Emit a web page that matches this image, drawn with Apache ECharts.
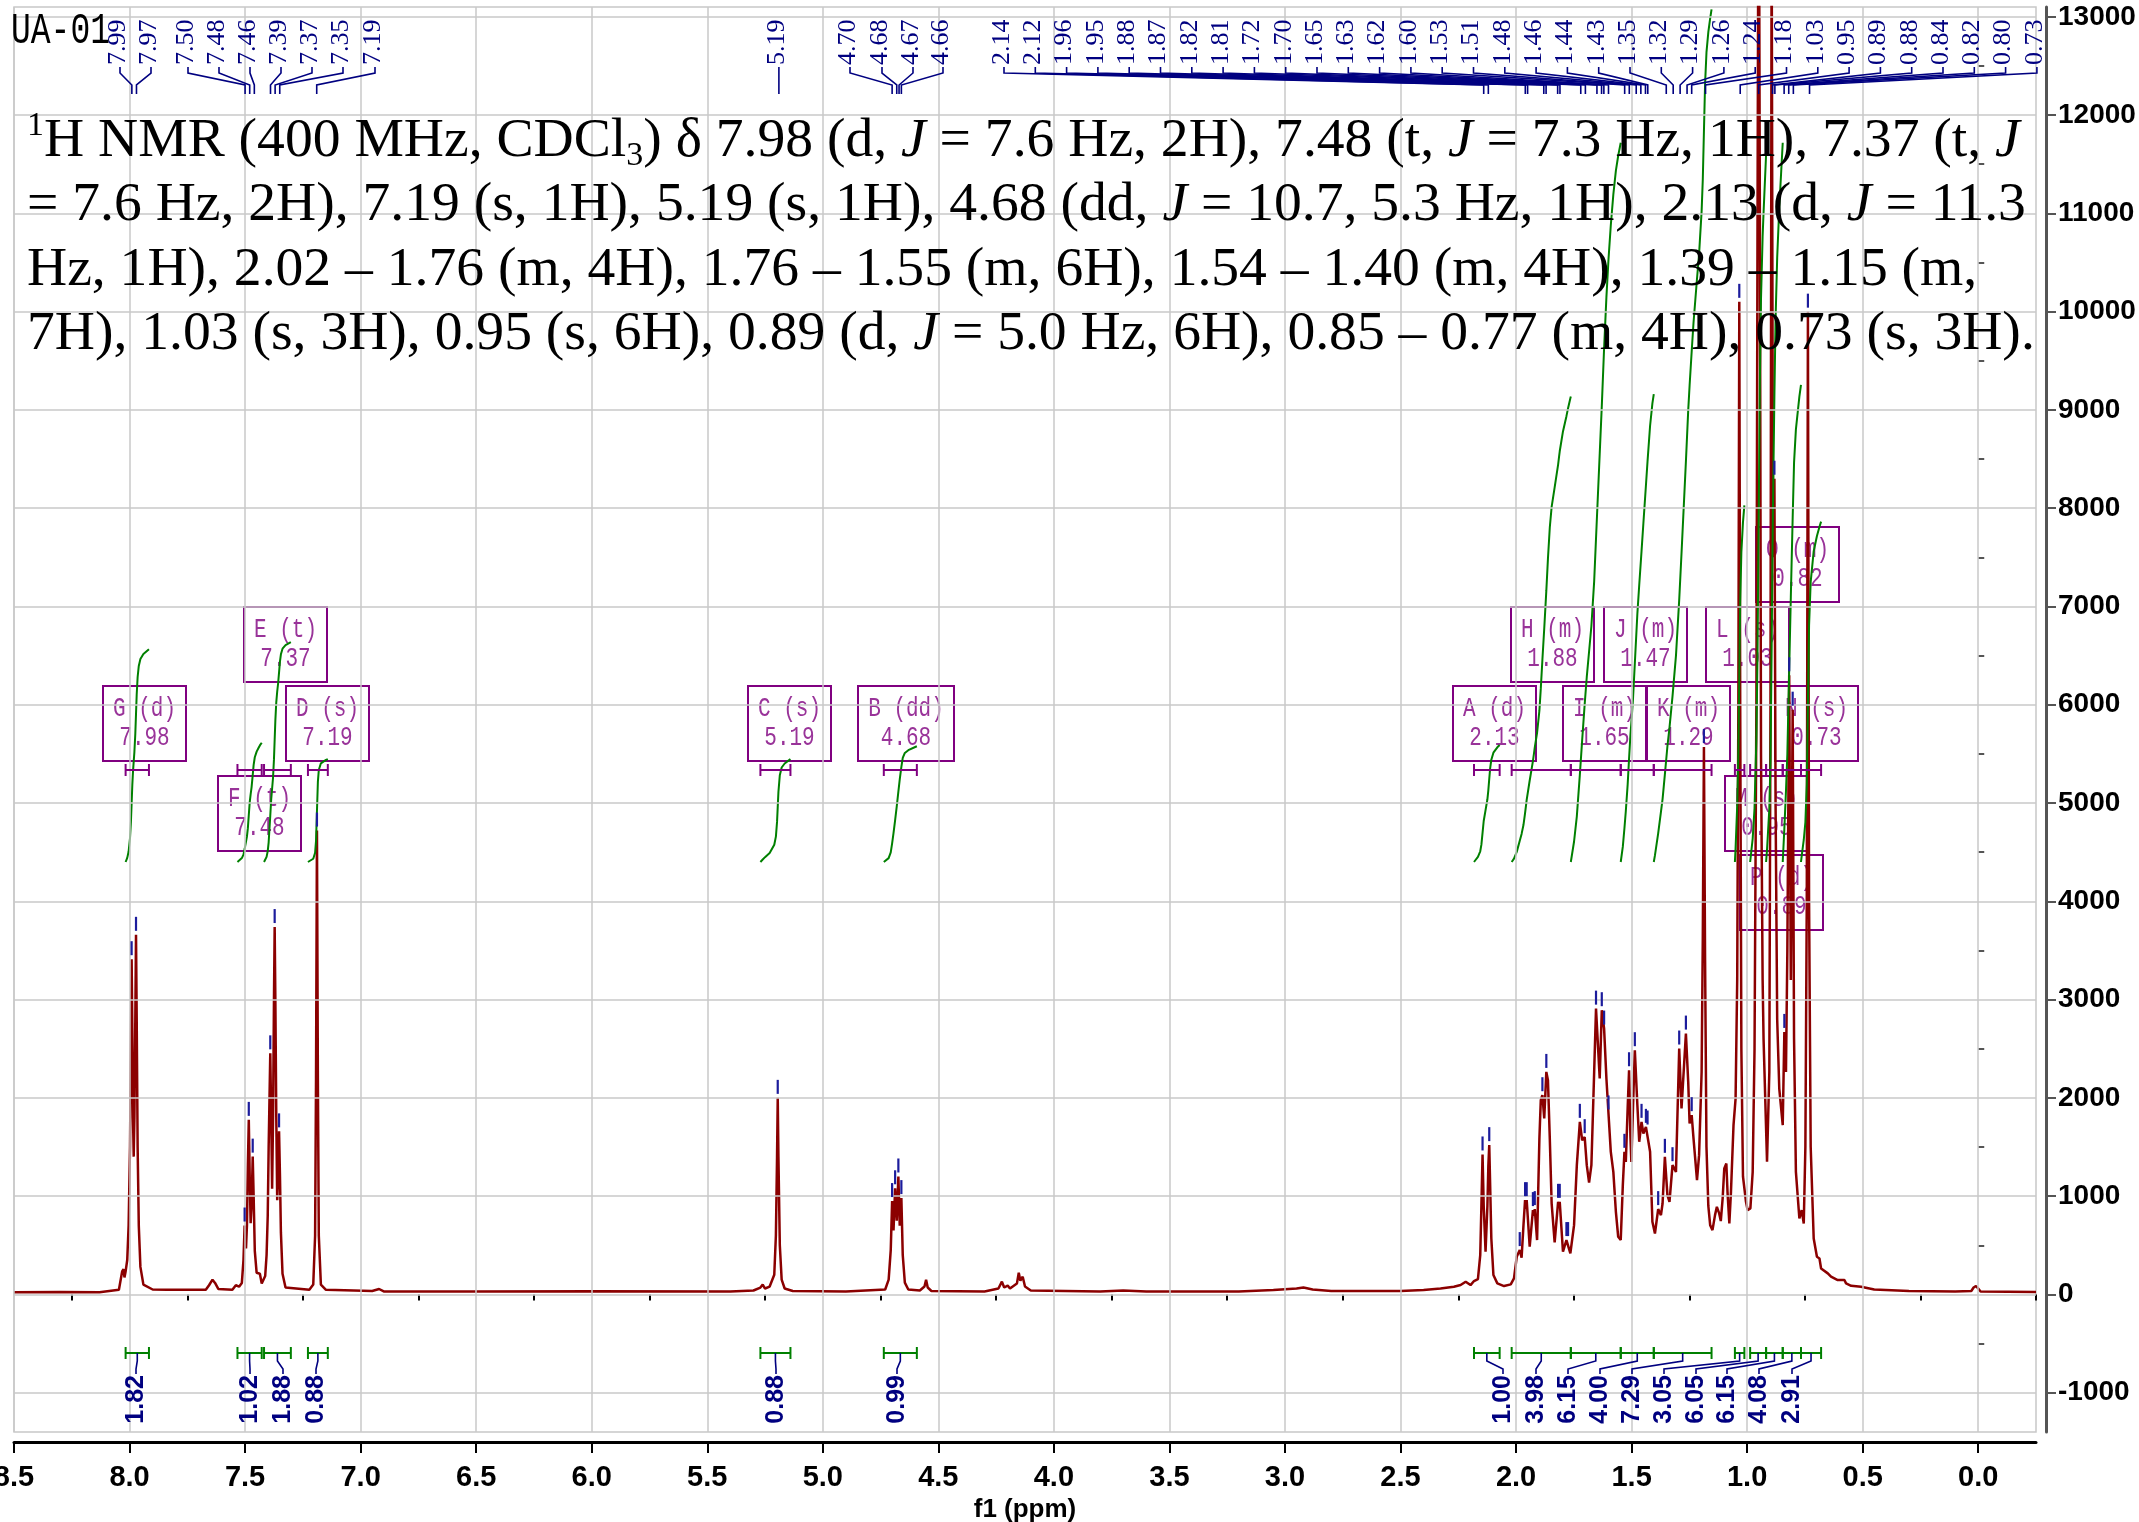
<!DOCTYPE html>
<html>
<head>
<meta charset="utf-8">
<script src="https://cdn.jsdelivr.net/npm/echarts@6/dist/echarts.min.js"></script>
<style>
html, body { margin: 0; padding: 0; background: #fff; }
#main { width: 2139px; height: 1522px; }
</style>
</head>
<body>
<div id="main"></div>
<script>
// ---- spectrum, [ppm, intensity] ----
var spectrumAromatic = [
  [8.50, 22], [8.30, 25], [8.13, 23], [8.046, 47], [8.032, 234], [8.026, 257], [8.022, 173], [8.017, 234],
  [8.010, 350], [8.004, 700], [7.998, 1500], [7.994, 2600], [7.991, 3411], [7.988, 2700], [7.985, 1800],
  [7.982, 1402], [7.979, 1800], [7.975, 2800], [7.972, 3659], [7.969, 2800], [7.965, 1500], [7.960, 700],
  [7.953, 280], [7.940, 100], [7.90, 50], [7.84, 47], [7.67, 47], [7.656, 93], [7.641, 150], [7.630, 117],
  [7.616, 56], [7.555, 47], [7.540, 93], [7.533, 107], [7.526, 79], [7.514, 117], [7.507, 350], [7.502, 701],
  [7.496, 467], [7.492, 700], [7.488, 1300], [7.484, 1776], [7.480, 1200], [7.476, 724], [7.472, 900],
  [7.467, 1402], [7.463, 1000], [7.458, 444], [7.450, 220], [7.442, 200], [7.436, 210], [7.428, 110],
  [7.420, 100], [7.413, 187], [7.407, 400], [7.402, 800], [7.398, 1500], [7.391, 2453], [7.387, 1800],
  [7.383, 1075], [7.379, 1800], [7.375, 3000], [7.372, 3738], [7.369, 3000], [7.365, 1800], [7.361, 958],
  [7.357, 1200], [7.353, 1659], [7.349, 1200], [7.345, 631], [7.338, 210], [7.325, 70], [7.222, 47],
  [7.205, 100], [7.197, 600], [7.193, 2200], [7.189, 4720], [7.185, 2200], [7.181, 600], [7.172, 100],
  [7.150, 47], [6.95, 35], [6.92, 55], [6.90, 30]
];
var spectrumMid = [
  [6.50, 30], [6.00, 32], [5.40, 30], [5.30, 40], [5.27, 70], [5.26, 100], [5.25, 60], [5.23, 80], [5.21, 200],
  [5.203, 600], [5.198, 1400], [5.195, 2000], [5.192, 1400], [5.186, 500], [5.178, 150], [5.165, 60], [5.13, 35],
  [4.90, 30], [4.73, 50], [4.715, 150], [4.706, 450], [4.700, 950], [4.694, 650], [4.687, 1080], [4.680, 750],
  [4.673, 1200], [4.667, 700], [4.660, 980], [4.654, 400], [4.645, 120], [4.630, 50], [4.58, 40], [4.56, 80],
  [4.553, 150], [4.546, 70], [4.53, 35], [4.30, 30], [4.24, 60], [4.225, 130], [4.215, 70], [4.20, 90],
  [4.19, 60], [4.16, 110], [4.152, 220], [4.145, 140], [4.135, 180], [4.125, 80], [4.10, 40], [3.80, 30],
  [3.70, 40], [3.60, 30], [3.20, 30], [3.05, 45], [2.95, 60], [2.92, 70], [2.88, 50], [2.80, 35], [2.50, 35]
];
var spectrumAliphatic = [
  [2.40, 45], [2.327, 61], [2.269, 78], [2.240, 95], [2.218, 129], [2.197, 95], [2.182, 136], [2.165, 156],
  [2.155, 400], [2.150, 900], [2.145, 1424], [2.140, 900], [2.132, 434], [2.124, 900], [2.120, 1300],
  [2.116, 1519], [2.112, 1100], [2.107, 569], [2.098, 197], [2.081, 112], [2.052, 85], [2.023, 102],
  [2.009, 163], [1.997, 383], [1.984, 451], [1.976, 373], [1.968, 700], [1.961, 959], [1.957, 870],
  [1.954, 959], [1.941, 485], [1.927, 858], [1.923, 800], [1.919, 868], [1.909, 553], [1.899, 1586],
  [1.893, 1976], [1.886, 2027], [1.878, 1790], [1.869, 2264], [1.862, 2180], [1.854, 1586], [1.846, 925],
  [1.833, 529], [1.818, 942], [1.814, 900], [1.811, 942], [1.797, 434], [1.782, 553], [1.778, 540],
  [1.775, 553], [1.765, 417], [1.749, 705], [1.737, 1315], [1.724, 1756], [1.714, 1569], [1.703, 1600],
  [1.694, 1315], [1.684, 1139], [1.674, 1315], [1.662, 2264], [1.654, 2908], [1.638, 2197], [1.629, 2892],
  [1.619, 2705], [1.609, 2197], [1.600, 1841], [1.590, 1451], [1.579, 1247], [1.568, 841], [1.558, 586],
  [1.547, 553], [1.538, 1112], [1.531, 1451], [1.525, 1349], [1.517, 1900], [1.511, 2281], [1.505, 1600],
  [1.501, 1349], [1.494, 1900], [1.486, 2485], [1.475, 1925], [1.467, 1553], [1.457, 1756], [1.449, 1637],
  [1.438, 1705], [1.431, 1688], [1.420, 1451], [1.410, 739], [1.399, 620], [1.385, 868], [1.373, 807],
  [1.366, 925], [1.356, 1400], [1.345, 1010], [1.336, 942], [1.323, 1315], [1.308, 1247], [1.294, 2502],
  [1.284, 1892], [1.265, 2654], [1.255, 2163], [1.249, 1739], [1.240, 1824], [1.232, 1586], [1.217, 1163],
  [1.208, 1417], [1.197, 2264], [1.192, 3600], [1.187, 5570], [1.182, 3400], [1.176, 1500], [1.168, 900],
  [1.160, 705], [1.150, 654], [1.139, 807], [1.131, 891], [1.121, 824], [1.114, 746], [1.106, 976],
  [1.099, 1281], [1.090, 1332], [1.085, 1044], [1.077, 722], [1.070, 1044], [1.059, 1722], [1.050, 1993],
  [1.043, 3200], [1.038, 6000], [1.034, 10100], [1.030, 6000], [1.025, 2500], [1.018, 1200], [1.005, 942],
  [0.998, 858], [0.986, 875], [0.976, 1247], [0.968, 2500], [0.960, 6000], [0.955, 11000], [0.950, 15500],
  [0.945, 11000], [0.940, 5500], [0.933, 3200], [0.929, 2603], [0.914, 1349], [0.904, 2264], [0.899, 6000],
  [0.894, 14000], [0.889, 8500], [0.886, 7500], [0.882, 8300], [0.877, 5000], [0.870, 2800], [0.861, 2095],
  [0.846, 1722], [0.839, 2671], [0.832, 2264], [0.826, 3500], [0.818, 6300], [0.811, 3200], [0.803, 5950],
  [0.797, 2600], [0.789, 1247], [0.774, 773], [0.764, 858], [0.755, 722], [0.748, 1500], [0.742, 4000],
  [0.737, 10000], [0.732, 4000], [0.725, 1500], [0.712, 569], [0.698, 383], [0.687, 366], [0.680, 264],
  [0.651, 214], [0.637, 180], [0.608, 146], [0.579, 146], [0.572, 112], [0.550, 88], [0.507, 78], [0.45, 50],
  [0.30, 35], [0.10, 30], [0.03, 35], [0.02, 70], [0.01, 85], [0.00, 60], [-0.01, 30], [-0.25, 25]
];
var spectrum = spectrumAromatic.concat(spectrumMid, spectrumAliphatic);

// picked peak apexes (blue ticks)
var peakTops = [
  [7.991, 3411], [7.972, 3659], [7.502, 701], [7.484, 1776], [7.467, 1402], [7.391, 2453], [7.372, 3738],
  [7.353, 1659], [7.189, 4720], [5.195, 2000], [4.700, 950], [4.687, 1080], [4.673, 1200], [4.660, 980],
  [2.145, 1424], [2.116, 1519], [1.984, 451], [1.961, 959], [1.954, 959], [1.927, 858], [1.919, 868],
  [1.886, 2027], [1.869, 2264], [1.818, 942], [1.811, 942], [1.782, 553], [1.775, 553], [1.724, 1756],
  [1.703, 1600], [1.654, 2908], [1.629, 2892], [1.619, 2705], [1.600, 1841], [1.531, 1451], [1.511, 2281],
  [1.486, 2485], [1.457, 1756], [1.438, 1705], [1.431, 1688], [1.385, 868], [1.356, 1400], [1.323, 1315],
  [1.294, 2502], [1.265, 2654], [1.240, 1824], [1.187, 5570], [1.034, 10100], [0.882, 8300], [0.839, 2671],
  [0.818, 6300], [0.803, 5950], [0.737, 10000]
];

// peak labels along the top
var peakLabelsAromatic = [7.99, 7.97, 7.50, 7.48, 7.46, 7.39, 7.37, 7.35, 7.19];
var peakLabelsMid = [5.19];
var peakLabelsOlefin = [4.70, 4.68, 4.67, 4.66];
var peakLabelsAliphatic = [2.14, 2.12, 1.96, 1.95, 1.88, 1.87, 1.82, 1.81, 1.72, 1.70, 1.65, 1.63, 1.62, 1.60,
  1.53, 1.51, 1.48, 1.46, 1.44, 1.43, 1.35, 1.32, 1.29, 1.26, 1.24, 1.18, 1.03, 0.95, 0.89, 0.88, 0.84,
  0.82, 0.80, 0.73];

// multiplets / integrals
var multipletNames = ['G (d)', 'F (t)', 'E (t)', 'D (s)', 'C (s)', 'B (dd)', 'A (d)', 'H (m)', 'I (m)', 'J (m)',
  'K (m)', 'L (s)', 'M (s)', 'P (d)', 'O (m)', 'N (s)'];
var multipletShifts = ['7.98', '7.48', '7.37', '7.19', '5.19', '4.68', '2.13', '1.88', '1.65', '1.47', '1.29',
  '1.03', '0.95', '0.89', '0.82', '0.73'];
var rangeFrom = [8.017, 7.533, 7.418, 7.228, 5.27, 4.736, 2.182, 2.019, 1.763, 1.547, 1.404, 1.053, 0.987, 0.918, 0.846, 0.767];
var rangeTo = [7.916, 7.428, 7.302, 7.142, 5.14, 4.593, 2.071, 1.763, 1.547, 1.404, 1.154, 1.012, 0.918, 0.846, 0.767, 0.680];
var integrals = [1.82, 1.02, 1.88, 0.88, 0.88, 0.99, 1.00, 3.98, 6.15, 4.00, 7.29, 3.05, 6.05, 6.15, 4.08, 2.91];

// axis ticks
var xMajor = [8.5, 8.0, 7.5, 7.0, 6.5, 6.0, 5.5, 5.0, 4.5, 4.0, 3.5, 3.0, 2.5, 2.0, 1.5, 1.0, 0.5, 0.0];
var xMinor = [8.25, 7.75, 7.25, 6.75, 6.25, 5.75, 5.25, 4.75, 4.25, 3.75, 3.25, 2.75, 2.25, 1.75, 1.25, 0.75, 0.25, -0.25];
var yMajor = [-1000, 0, 1000, 2000, 3000, 4000, 5000, 6000, 7000, 8000, 9000, 10000, 11000, 12000, 13000];
var yMinor = [-500, 500, 1500, 2500, 3500, 4500, 5500, 6500, 7500, 8500, 9500, 10500, 11500, 12500];

var textLines = [
  '{sup|1}H NMR (400 MHz, CDCl{sub|3}) δ 7.98 (d, {i|J} = 7.6 Hz, 2H), 7.48 (t, {i|J} = 7.3 Hz, 1H), 7.37 (t, {i|J}',
  '= 7.6 Hz, 2H), 7.19 (s, 1H), 5.19 (s, 1H), 4.68 (dd, {i|J} = 10.7, 5.3 Hz, 1H), 2.13 (d, {i|J} = 11.3',
  'Hz, 1H), 2.02 – 1.76 (m, 4H), 1.76 – 1.55 (m, 6H), 1.54 – 1.40 (m, 4H), 1.39 – 1.15 (m,',
  '7H), 1.03 (s, 3H), 0.95 (s, 6H), 0.89 (d, {i|J} = 5.0 Hz, 6H), 0.85 – 0.77 (m, 4H), 0.73 (s, 3H).'
];

// ---- layout (pixels) ----
var labelXAromatic = [120, 151, 188, 219, 250, 281, 312, 343, 375];
var labelXOlefin = [850, 882, 913, 943];
var labelXAliphaticStart = 1004, labelXStep = 31.3;
var boxPos = [[103, 686], [218, 776], [244, 607], [286, 686], [748, 686], [858, 686], [1453, 686], [1511, 607],
  [1563, 686], [1604, 607], [1647, 686], [1706, 607], [1725, 776], [1740, 855], [1756, 527], [1775, 686]];
var integralLabelX = [136, 250, 283, 316, 776, 897, 1503, 1536, 1568, 1600, 1632, 1664, 1696, 1727, 1759, 1792];
var textLineY = [141, 205, 270, 334];
var integralBase = 4400, integralPerH = 1190;

var NAVY = '#000080', GREEN = '#008000', PURPLE = '#800080', SPEC = '#8b0000';

// label list with their pixel x
var peakLabelValues = [], peakLabelX = [];
peakLabelsAromatic.forEach(function (v, i) { peakLabelValues.push(v); peakLabelX.push(labelXAromatic[i]); });
peakLabelsMid.forEach(function (v) { peakLabelValues.push(v); peakLabelX.push(null); });
peakLabelsOlefin.forEach(function (v, i) { peakLabelValues.push(v); peakLabelX.push(labelXOlefin[i]); });
peakLabelsAliphatic.forEach(function (v, i) { peakLabelValues.push(v); peakLabelX.push(labelXAliphaticStart + i * labelXStep); });

// running integral of the spectrum over a range
function integralCurve(from, to, value) {
  var pts = spectrum.filter(function (p) { return p[0] <= from && p[0] >= to; });
  var out = [[from, 0]];
  var area = 0, prev = [from, pts.length ? pts[0][1] : 0];
  pts.forEach(function (p) {
    area += (prev[1] + p[1]) / 2 * (prev[0] - p[0]);
    out.push([p[0], area]);
    prev = p;
  });
  area += prev[1] * (prev[0] - to);
  out.push([to, area]);
  return out.map(function (p) { return [p[0], integralBase + p[1] / area * integralPerH * value]; });
}

var chart = echarts.init(document.getElementById('main'));

var series = [];
series.push({
  type: 'line', data: [[8.5, -1400]], symbol: 'none', lineStyle: { width: 0 }, silent: true, z: 1,
  markLine: {
    silent: true, symbol: ['none', 'none'], label: { show: false }, animation: false,
    lineStyle: { color: '#c8c8c8', width: 1.5, type: 'solid' },
    emphasis: { disabled: true },
    data: xMajor.map(function (v) { return { xAxis: v }; }).concat(yMajor.map(function (v) { return { yAxis: v }; }))
  }
});
series.push({
  type: 'line', data: spectrum, symbol: 'none', showSymbol: false, z: 3,
  lineStyle: { color: SPEC, width: 2.5 }
});
rangeFrom.forEach(function (f, i) {
  series.push({
    type: 'line', data: integralCurve(f, rangeTo[i], integrals[i]), symbol: 'none', showSymbol: false, z: 4,
    lineStyle: { color: GREEN, width: 2 }
  });
});
series.push({
  type: 'custom', data: peakTops, z: 6,
  renderItem: function (params, api) {
    var v = api.value(1);
    if (v > 12900) return null;
    var p = api.coord([api.value(0), v]);
    return { type: 'rect', shape: { x: p[0] - 1.1, y: p[1] - 18, width: 2.2, height: 14 }, style: { fill: '#1c1c9c' } };
  }
});
series.push({
  type: 'custom', z: 6,
  data: peakLabelValues.map(function (v, i) { return [v, i]; }),
  renderItem: function (params, api) {
    var ppm = api.value(0), idx = api.value(1);
    var fx = api.coord([ppm, 0])[0];
    var lx = peakLabelX[idx] == null ? fx : peakLabelX[idx];
    return {
      type: 'group', children: [
        { type: 'polyline', shape: { points: [[lx, 67], [lx, 73], [fx, 85], [fx, 94]] },
          style: { stroke: NAVY, lineWidth: 1.6, fill: null } },
        { type: 'text', x: lx - 2, y: 65, rotation: Math.PI / 2,
          style: { text: ppm.toFixed(2), font: '26px "Liberation Serif"', fill: NAVY, align: 'left', verticalAlign: 'middle' } }
      ]
    };
  }
});
series.push({
  type: 'custom', z: 6,
  data: rangeFrom.map(function (f, i) { return [f, rangeTo[i], integrals[i], i]; }),
  renderItem: function (params, api) {
    var x1 = api.coord([api.value(0), 0])[0], x2 = api.coord([api.value(1), 0])[0];
    var idx = api.value(3), lx = integralLabelX[idx], xm = (x1 + x2) / 2;
    var gy = 1353, py = 770;
    return {
      type: 'group', children: [
        { type: 'polyline', shape: { points: [[x1, gy - 6], [x1, gy + 6]] }, style: { stroke: GREEN, lineWidth: 2 } },
        { type: 'polyline', shape: { points: [[x2, gy - 6], [x2, gy + 6]] }, style: { stroke: GREEN, lineWidth: 2 } },
        { type: 'polyline', shape: { points: [[x1, gy], [x2, gy]] }, style: { stroke: GREEN, lineWidth: 2 } },
        { type: 'polyline', shape: { points: [[xm, gy], [xm, gy + 8], [lx, gy + 16], [lx, gy + 21]] },
          style: { stroke: NAVY, lineWidth: 1.6, fill: null } },
        { type: 'text', x: lx, y: gy + 22, rotation: Math.PI / 2,
          style: { text: api.value(2).toFixed(2), font: 'bold 25px "Liberation Sans"', fill: NAVY, align: 'right', verticalAlign: 'middle' } },
        { type: 'polyline', shape: { points: [[x1, py - 6], [x1, py + 6]] }, style: { stroke: PURPLE, lineWidth: 2 } },
        { type: 'polyline', shape: { points: [[x2, py - 6], [x2, py + 6]] }, style: { stroke: PURPLE, lineWidth: 2 } },
        { type: 'polyline', shape: { points: [[x1, py], [x2, py]] }, style: { stroke: PURPLE, lineWidth: 2 } }
      ]
    };
  }
});

var graphics = [];
graphics.push({
  type: 'text', x: 11, y: 31, scaleY: 1.35, z: 10,
  style: { text: 'UA-01', font: '33px "Liberation Mono"', fill: '#000', verticalAlign: 'middle' }
});
var serif = '"Liberation Serif", "Times New Roman", serif';
textLines.forEach(function (t, i) {
  graphics.push({
    type: 'text', x: 27, y: textLineY[i], z: 10,
    style: {
      text: t, fontFamily: serif, fontSize: 55.6, lineHeight: 64, fill: '#000', verticalAlign: 'middle',
      rich: {
        sup: { fontFamily: serif, fontSize: 34, lineHeight: 36, verticalAlign: 'top', fill: '#000' },
        sub: { fontFamily: serif, fontSize: 34, lineHeight: 36, verticalAlign: 'bottom', fill: '#000' },
        i: { fontFamily: serif, fontSize: 55.6, lineHeight: 64, fontStyle: 'italic', fill: '#000' }
      }
    }
  });
});
multipletNames.forEach(function (name, i) {
  var w = name.length > 5 ? 96 : 83, h = 75, x = boxPos[i][0], y = boxPos[i][1];
  graphics.push({
    type: 'group', x: x, y: y, z: 2,
    children: [
      { type: 'rect', shape: { x: 0, y: 0, width: w, height: h }, style: { fill: null, stroke: PURPLE, lineWidth: 2 } },
      { type: 'text', x: w / 2, y: 23, scaleY: 1.3,
        style: { text: name, font: '21px "Liberation Mono"', fill: '#993399', align: 'center', verticalAlign: 'middle' } },
      { type: 'text', x: w / 2, y: 52, scaleY: 1.3,
        style: { text: multipletShifts[i], font: '21px "Liberation Mono"', fill: '#993399', align: 'center', verticalAlign: 'middle' } }
    ]
  });
});

var option = {
  animation: false,
  backgroundColor: '#fff',
  grid: {
    left: 14, right: 103, top: 7, bottom: 90, containLabel: false, outerBoundsMode: 'none',
    show: true, borderColor: '#c8c8c8', borderWidth: 1.5, backgroundColor: 'transparent'
  },
  xAxis: [{
    type: 'value', inverse: true, min: -0.25, max: 8.5, position: 'bottom', offset: 10,
    axisLine: { show: true, onZero: false, lineStyle: { color: '#000', width: 3 } },
    axisTick: { show: true, customValues: xMajor, length: 11, lineStyle: { color: '#000', width: 2 } },
    axisLabel: {
      customValues: xMajor, formatter: function (v) { return (+v).toFixed(1); },
      fontFamily: 'Liberation Sans', fontWeight: 'bold', fontSize: 29, color: '#000', margin: 21
    },
    splitLine: { show: false },
    name: 'f1 (ppm)', nameLocation: 'middle', nameGap: 53,
    nameTextStyle: { fontFamily: 'Liberation Sans', fontWeight: 'bold', fontSize: 26, color: '#000' }
  }, {
    type: 'value', inverse: true, min: -0.25, max: 8.5, position: 'bottom', offset: 10,
    axisLine: { show: false },
    axisTick: { show: true, customValues: xMinor, length: 6, lineStyle: { color: '#000', width: 2 } },
    axisLabel: { show: false }, splitLine: { show: false }
  }],
  yAxis: [{
    type: 'value', position: 'right', offset: 10, min: -1400, max: 13100,
    axisLine: { show: true, onZero: false, lineStyle: { color: '#555', width: 3 } },
    axisTick: { show: true, customValues: yMajor, length: 10, lineStyle: { color: '#555', width: 2 } },
    axisLabel: {
      customValues: yMajor, formatter: function (v) { return String(Math.round(v)); },
      fontFamily: 'Liberation Sans', fontWeight: 'bold', fontSize: 28, color: '#000', margin: 12
    },
    splitLine: { show: false }
  }, {
    type: 'value', position: 'right', offset: 10, min: -1400, max: 13100,
    axisLine: { show: false },
    axisTick: { show: true, customValues: yMinor, length: 6, lineStyle: { color: '#555', width: 2 } },
    axisLabel: { show: false }, splitLine: { show: false }
  }],
  graphic: graphics,
  series: series
};

chart.setOption(option);
</script>
</body>
</html>
